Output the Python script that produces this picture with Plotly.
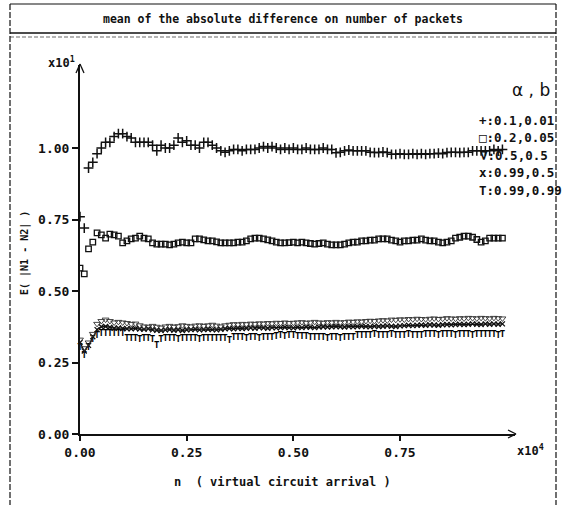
import plotly.graph_objects as go

# ---------------- data (x in units of 10^4, y in units of 10^1) ----------------
n_points = 100
x_vals = [i / 100 for i in range(n_points)]

plus_a01_b001 = [
    0.76, 0.72, 0.93, 0.95, 0.98, 1.00, 1.02, 1.02, 1.04, 1.05,
    1.05, 1.04, 1.035, 1.02, 1.02, 1.02, 1.02, 1.01, 0.99, 1.01,
    1.00, 1.00, 1.01, 1.035, 1.02, 1.025, 1.01, 1.01, 1.00, 1.02,
    1.02, 1.01, 1.00, 0.99, 0.985, 0.99, 0.995, 0.995, 0.99, 0.995,
    0.995, 0.995, 1.00, 1.005, 1.00, 1.005, 1.00, 0.995, 1.00, 0.995,
    1.00, 0.995, 0.995, 1.00, 0.995, 0.995, 0.995, 1.00, 0.995, 0.995,
    0.983, 0.985, 0.99, 0.993, 0.99, 0.99, 0.99, 0.99, 0.985, 0.984,
    0.984, 0.986, 0.984, 0.978, 0.978, 0.98, 0.978, 0.978, 0.98, 0.978,
    0.98, 0.978, 0.98, 0.98, 0.982, 0.98, 0.984, 0.985, 0.985, 0.984,
    0.985, 0.985, 0.99, 0.99, 0.99, 0.99, 0.99, 0.995, 0.99, 0.995,
]

square_a02_b005 = [
    0.58, 0.56, 0.647, 0.671, 0.703, 0.696, 0.685, 0.699, 0.696, 0.692,
    0.668, 0.675, 0.682, 0.685, 0.692, 0.685, 0.682, 0.668, 0.664, 0.664,
    0.664, 0.661, 0.664, 0.668, 0.671, 0.668, 0.668, 0.682, 0.682, 0.679,
    0.675, 0.675, 0.672, 0.668, 0.668, 0.668, 0.668, 0.671, 0.671, 0.675,
    0.682, 0.685, 0.685, 0.682, 0.679, 0.675, 0.671, 0.668, 0.668, 0.669,
    0.671, 0.668, 0.671, 0.668, 0.666, 0.664, 0.666, 0.668, 0.664, 0.661,
    0.661, 0.661, 0.664, 0.668, 0.671, 0.671, 0.675, 0.675, 0.678, 0.678,
    0.682, 0.682, 0.682, 0.678, 0.675, 0.671, 0.675, 0.675, 0.678, 0.678,
    0.682, 0.678, 0.675, 0.675, 0.671, 0.668, 0.671, 0.675, 0.685, 0.688,
    0.692, 0.692, 0.688, 0.680, 0.671, 0.675, 0.685, 0.685, 0.685, 0.685,
]

nabla_a05_b05 = [
    0.33, 0.30, 0.32, 0.35, 0.385, 0.395, 0.40, 0.395, 0.39, 0.392,
    0.39, 0.388, 0.385, 0.386, 0.38, 0.376, 0.375, 0.378, 0.375, 0.372,
    0.376, 0.378, 0.375, 0.377, 0.38, 0.378, 0.376, 0.379, 0.38, 0.378,
    0.38, 0.382, 0.379, 0.376, 0.38, 0.382, 0.384, 0.383, 0.385, 0.384,
    0.386, 0.385, 0.387, 0.386, 0.388, 0.387, 0.389, 0.388, 0.39, 0.388,
    0.389, 0.39, 0.391, 0.389, 0.39, 0.392, 0.39, 0.389, 0.391, 0.39,
    0.392, 0.39, 0.391, 0.393, 0.392, 0.394, 0.393, 0.395, 0.396, 0.395,
    0.397, 0.398, 0.397, 0.40, 0.399, 0.401, 0.40, 0.402, 0.401, 0.403,
    0.402, 0.401, 0.403, 0.404, 0.402, 0.403, 0.405, 0.404, 0.403, 0.405,
    0.404, 0.406, 0.405, 0.404, 0.406, 0.405, 0.404, 0.406, 0.405, 0.404,
]

cross_a099_b05 = [
    0.32, 0.29, 0.31, 0.34, 0.365, 0.375, 0.376, 0.373, 0.37, 0.371,
    0.369, 0.368, 0.368, 0.369, 0.367, 0.366, 0.368, 0.364, 0.363, 0.362,
    0.364, 0.365, 0.363, 0.364, 0.362, 0.364, 0.365, 0.366, 0.364, 0.365,
    0.366, 0.365, 0.364, 0.366, 0.368, 0.369, 0.368, 0.37, 0.369, 0.37,
    0.371, 0.37, 0.372, 0.371, 0.37, 0.372, 0.371, 0.372, 0.373, 0.372,
    0.371, 0.373, 0.372, 0.374, 0.373, 0.372, 0.374, 0.375, 0.374, 0.375,
    0.376, 0.375, 0.374, 0.376, 0.375, 0.376, 0.377, 0.376, 0.375, 0.377,
    0.376, 0.377, 0.378, 0.377, 0.376, 0.378, 0.379, 0.38, 0.379, 0.38,
    0.381, 0.38, 0.382, 0.381, 0.38, 0.382, 0.383, 0.382, 0.383, 0.384,
    0.383, 0.384, 0.385, 0.384, 0.383, 0.385, 0.384, 0.385, 0.384, 0.385,
]

tee_a099_b099 = [
    0.30, 0.275, 0.30, 0.33, 0.345, 0.35, 0.351, 0.35, 0.352, 0.35,
    0.349, 0.334, 0.332, 0.333, 0.331, 0.332, 0.333, 0.331, 0.31, 0.33,
    0.332, 0.333, 0.332, 0.331, 0.333, 0.332, 0.334, 0.333, 0.331, 0.332,
    0.333, 0.332, 0.334, 0.333, 0.332, 0.325, 0.335, 0.336, 0.335, 0.334,
    0.336, 0.335, 0.334, 0.336, 0.335, 0.337, 0.34, 0.342, 0.341, 0.343,
    0.342, 0.341, 0.34, 0.339, 0.338, 0.337, 0.336, 0.335, 0.334, 0.336,
    0.335, 0.334, 0.336, 0.335, 0.337, 0.344, 0.345, 0.344, 0.345, 0.346,
    0.345, 0.344, 0.345, 0.346, 0.345, 0.344, 0.345, 0.346, 0.345, 0.344,
    0.345, 0.346, 0.347, 0.346, 0.345, 0.346, 0.347, 0.346, 0.345, 0.346,
    0.347, 0.346, 0.345, 0.346, 0.347, 0.346, 0.347, 0.346, 0.345, 0.346,
]

x_tick_vals = [0.0, 0.25, 0.5, 0.75]
x_tick_text = ["0.00", "0.25", "0.50", "0.75"]
y_tick_vals = [0.0, 0.25, 0.5, 0.75, 1.0]
y_tick_text = ["0.00", "0.25", "0.50", "0.75", "1.00"]

legend_lines = ["+:0.1,0.01", "\u25a1:0.2,0.05", "\u2207:0.5,0.5", "x:0.99,0.5", "T:0.99,0.99"]

title_text = "mean of the absolute difference on number of packets"
x_title = "n  ( virtual circuit arrival )"
y_title = "E( |N1 - N2| )"

# ---------------- layout geometry (pixels) ----------------
W, H = 566, 505
L, R, T, B = 80, 51, 65, 71
PW, PH = W - L - R, H - T - B
X0PX, Y0PX = L, H - B


def px(xp):
    return (xp - X0PX) / PW


def py(yp):
    return (Y0PX - yp) / PH


MONO = "DejaVu Sans Mono"
INK = "#111111"
fig = go.Figure()

fig.add_trace(go.Scatter(
    x=x_vals, y=tee_a099_b099, mode="text", text=["T"] * len(x_vals),
    textfont=dict(family=MONO, size=9, color="#000000", weight="bold"),
    textposition="middle center", hoverinfo="skip", cliponaxis=False))
fig.add_trace(go.Scatter(
    x=x_vals, y=cross_a099_b05, mode="lines+markers",
    line=dict(color=INK, width=1.2),
    marker=dict(symbol="x-thin", size=5, line=dict(color=INK, width=1.3))))
fig.add_trace(go.Scatter(
    x=x_vals, y=nabla_a05_b05, mode="markers",
    marker=dict(symbol="triangle-down-open", size=6, color="#333333",
                line=dict(color="#333333", width=0.9))))
fig.add_trace(go.Scatter(
    x=x_vals, y=square_a02_b005, mode="markers",
    marker=dict(symbol="square-open", size=5.5, color=INK,
                line=dict(color=INK, width=1.3))))
fig.add_trace(go.Scatter(
    x=x_vals, y=plus_a01_b001, mode="markers",
    marker=dict(symbol="cross-thin", size=7, line=dict(color=INK, width=1.5))))


def note(text, xp, yp, size, family=MONO, bold=True, xanchor="center",
         yanchor="middle", angle=0):
    return dict(text=text, xref="paper", yref="paper", x=px(xp), y=py(yp),
                xanchor=xanchor, yanchor=yanchor, textangle=angle,
                showarrow=False,
                font=dict(family=family, size=size, color=INK,
                          weight="bold" if bold else "normal"))


annotations = [
    note(title_text, 283, 19, 11.5),
    note(x_title, 282, 482, 12),
    note(y_title, 25, 253, 10, angle=-90),
    note("x10<sup>1</sup>", 77, 62, 12, xanchor="right"),
    note("x10<sup>4</sup>", 515, 450, 12, xanchor="left"),
    note("\u03b1 , b", 531, 90, 17, family="DejaVu Sans", bold=False),
]
for k, line in enumerate(legend_lines):
    annotations.append(note(line, 477, 120 + 17.5 * k, 12.5, xanchor="left"))

shapes = []


def seg(x1, y1, x2, y2, width=1.2, dash="solid", color=INK):
    shapes.append(dict(type="line", xref="paper", yref="paper",
                       x0=px(x1), y0=py(y1), x1=px(x2), y1=py(y2),
                       line=dict(color=color, width=width, dash=dash)))


# frame
seg(10, 4, 556, 4, 1.2)
seg(10, 33, 556, 33, 1.6)
seg(10, 37, 556, 37, 0.8, "4px,2px", "#444444")
seg(10, 4, 10, 505, 1.2, "6px,2px")
seg(556, 4, 556, 505, 1.2, "6px,2px")
# axis arrow heads
seg(76, 73, 80, 64, 1.3)
seg(84, 73, 80, 64, 1.3)
seg(508, 430, 516, 434, 1.3)
seg(508, 438, 516, 434, 1.3)

fig.update_layout(
    width=W, height=H,
    margin=dict(l=L, r=R, t=T, b=B, pad=0),
    paper_bgcolor="white", plot_bgcolor="white",
    showlegend=False,
    annotations=annotations, shapes=shapes,
    xaxis=dict(range=[0, PW / 426.7], showgrid=False, zeroline=False,
               showline=True, linecolor=INK, linewidth=2,
               ticks="outside", ticklen=5, tickwidth=1.5, tickcolor=INK,
               tickvals=x_tick_vals, ticktext=x_tick_text,
               tickfont=dict(family=MONO, size=13, color=INK, weight="bold")),
    yaxis=dict(range=[0, PH / 286.0], showgrid=False, zeroline=False,
               showline=True, linecolor=INK, linewidth=2,
               ticks="outside", ticklen=6, tickwidth=1.5, tickcolor=INK,
               tickvals=y_tick_vals, ticktext=y_tick_text,
               tickfont=dict(family=MONO, size=13, color=INK, weight="bold")),
)

fig.write_html(
    "out.html",
    config={"displayModeBar": False},
    post_script="document.body.style.margin='0';document.body.style.overflow='hidden';",
)
